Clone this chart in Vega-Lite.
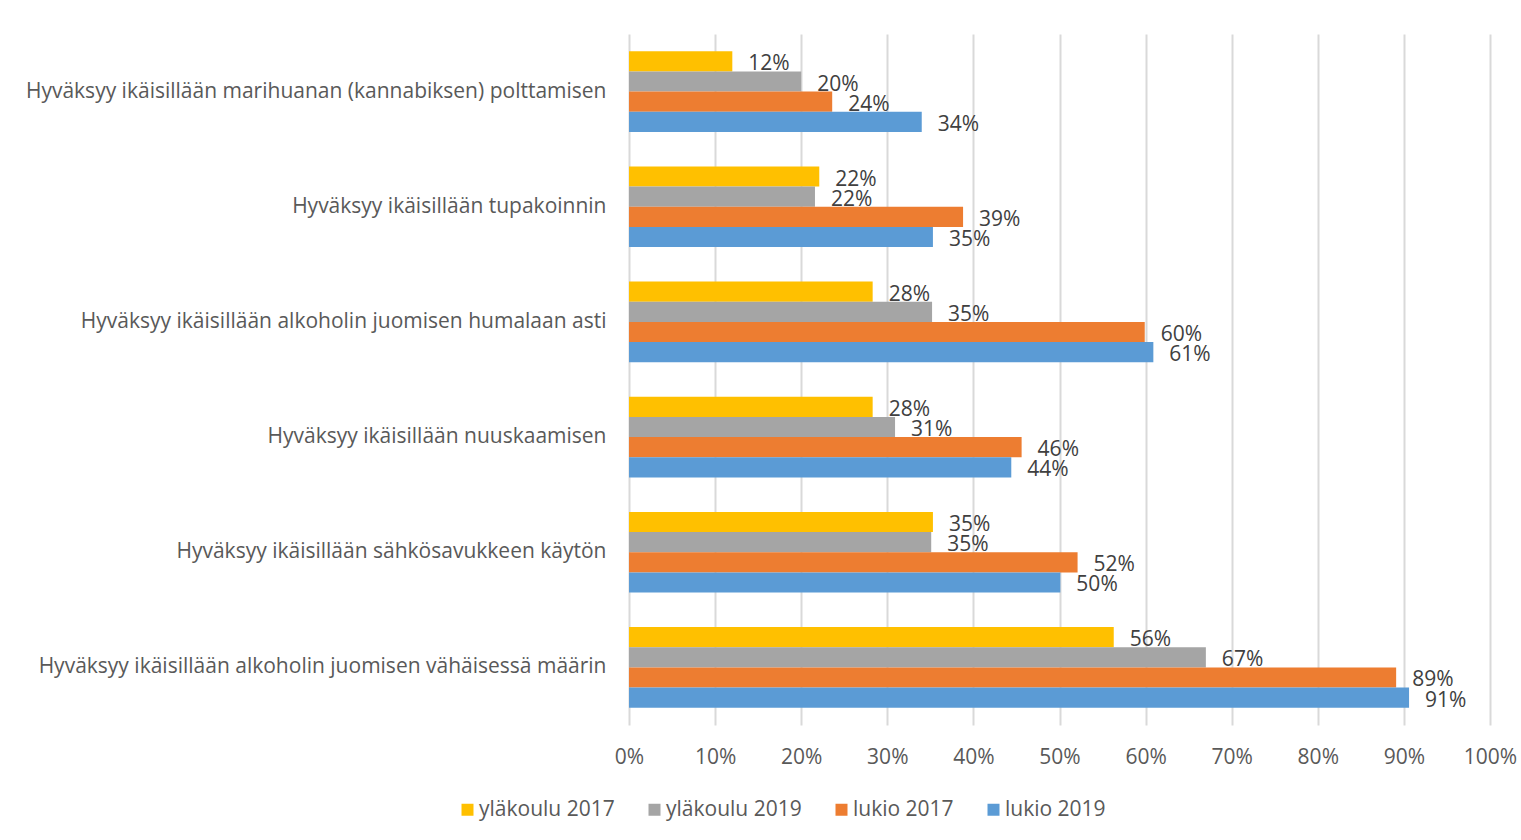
{
  "$schema": "https://vega.github.io/schema/vega-lite/v6.json",
  "autosize": "none",
  "width": 861,
  "height": 691,
  "padding": {"left": 629, "top": 34, "right": 31, "bottom": 115},
  "background": "white",
  "config": {
    "view": {"stroke": null},
    "font": "Open Sans"
  },
  "data": {
    "values": [
      {"kategoria": "Hyväksyy ikäisillään marihuanan (kannabiksen) polttamisen", "ryhma": "yläkoulu 2017", "arvo": 0.12},
      {"kategoria": "Hyväksyy ikäisillään marihuanan (kannabiksen) polttamisen", "ryhma": "yläkoulu 2019", "arvo": 0.20},
      {"kategoria": "Hyväksyy ikäisillään marihuanan (kannabiksen) polttamisen", "ryhma": "lukio 2017", "arvo": 0.236},
      {"kategoria": "Hyväksyy ikäisillään marihuanan (kannabiksen) polttamisen", "ryhma": "lukio 2019", "arvo": 0.34},
      {"kategoria": "Hyväksyy ikäisillään tupakoinnin", "ryhma": "yläkoulu 2017", "arvo": 0.221},
      {"kategoria": "Hyväksyy ikäisillään tupakoinnin", "ryhma": "yläkoulu 2019", "arvo": 0.216},
      {"kategoria": "Hyväksyy ikäisillään tupakoinnin", "ryhma": "lukio 2017", "arvo": 0.388},
      {"kategoria": "Hyväksyy ikäisillään tupakoinnin", "ryhma": "lukio 2019", "arvo": 0.353},
      {"kategoria": "Hyväksyy ikäisillään alkoholin juomisen humalaan asti", "ryhma": "yläkoulu 2017", "arvo": 0.283},
      {"kategoria": "Hyväksyy ikäisillään alkoholin juomisen humalaan asti", "ryhma": "yläkoulu 2019", "arvo": 0.352},
      {"kategoria": "Hyväksyy ikäisillään alkoholin juomisen humalaan asti", "ryhma": "lukio 2017", "arvo": 0.599},
      {"kategoria": "Hyväksyy ikäisillään alkoholin juomisen humalaan asti", "ryhma": "lukio 2019", "arvo": 0.609},
      {"kategoria": "Hyväksyy ikäisillään nuuskaamisen", "ryhma": "yläkoulu 2017", "arvo": 0.283},
      {"kategoria": "Hyväksyy ikäisillään nuuskaamisen", "ryhma": "yläkoulu 2019", "arvo": 0.309},
      {"kategoria": "Hyväksyy ikäisillään nuuskaamisen", "ryhma": "lukio 2017", "arvo": 0.456},
      {"kategoria": "Hyväksyy ikäisillään nuuskaamisen", "ryhma": "lukio 2019", "arvo": 0.444},
      {"kategoria": "Hyväksyy ikäisillään sähkösavukkeen käytön", "ryhma": "yläkoulu 2017", "arvo": 0.353},
      {"kategoria": "Hyväksyy ikäisillään sähkösavukkeen käytön", "ryhma": "yläkoulu 2019", "arvo": 0.351},
      {"kategoria": "Hyväksyy ikäisillään sähkösavukkeen käytön", "ryhma": "lukio 2017", "arvo": 0.521},
      {"kategoria": "Hyväksyy ikäisillään sähkösavukkeen käytön", "ryhma": "lukio 2019", "arvo": 0.501},
      {"kategoria": "Hyväksyy ikäisillään alkoholin juomisen vähäisessä määrin", "ryhma": "yläkoulu 2017", "arvo": 0.563},
      {"kategoria": "Hyväksyy ikäisillään alkoholin juomisen vähäisessä määrin", "ryhma": "yläkoulu 2019", "arvo": 0.670},
      {"kategoria": "Hyväksyy ikäisillään alkoholin juomisen vähäisessä määrin", "ryhma": "lukio 2017", "arvo": 0.891},
      {"kategoria": "Hyväksyy ikäisillään alkoholin juomisen vähäisessä määrin", "ryhma": "lukio 2019", "arvo": 0.906}
    ]
  },
  "encoding": {
    "y": {
      "field": "kategoria",
      "type": "nominal",
      "sort": null,
      "scale": {"paddingInner": 0.3, "paddingOuter": 0.15},
      "axis": {
        "title": null,
        "ticks": false,
        "domain": false,
        "labelFontSize": 21,
        "labelColor": "#595959",
        "labelPadding": 23,
        "labelLimit": 700
      }
    },
    "yOffset": {
      "field": "ryhma",
      "type": "nominal",
      "sort": ["yläkoulu 2017", "yläkoulu 2019", "lukio 2017", "lukio 2019"],
      "scale": {"paddingInner": 0, "paddingOuter": 0}
    },
    "x": {
      "field": "arvo",
      "type": "quantitative",
      "scale": {"domain": [0, 1]},
      "axis": {
        "title": null,
        "format": ".0%",
        "values": [0, 0.1, 0.2, 0.3, 0.4, 0.5, 0.6, 0.7, 0.8, 0.9, 1],
        "ticks": false,
        "domain": false,
        "grid": true,
        "gridColor": "#d9d9d9",
        "gridWidth": 2,
        "labelFontSize": 21,
        "labelColor": "#595959",
        "labelPadding": 21,
        "labelFlush": false
      }
    }
  },
  "layer": [
    {
      "mark": {"type": "bar"},
      "encoding": {
        "color": {
          "field": "ryhma",
          "type": "nominal",
          "sort": ["yläkoulu 2017", "yläkoulu 2019", "lukio 2017", "lukio 2019"],
          "scale": {
            "domain": ["yläkoulu 2017", "yläkoulu 2019", "lukio 2017", "lukio 2019"],
            "range": ["#FFC000", "#A5A5A5", "#ED7D31", "#5B9BD5"]
          },
          "legend": {
            "title": null,
            "orient": "none",
            "direction": "horizontal",
            "legendX": -172,
            "legendY": 765,
            "symbolType": "square",
            "symbolSize": 144,
            "symbolStrokeWidth": 0,
            "symbolOpacity": 1,
            "labelFontSize": 21,
            "labelColor": "#595959",
            "labelOffset": 1,
            "columnPadding": 29
          }
        }
      }
    },
    {
      "mark": {"type": "text", "align": "left", "baseline": "middle", "dx": 16, "dy": 3, "fontSize": 21, "color": "#404040"},
      "encoding": {
        "text": {"field": "arvo", "type": "quantitative", "format": ".0%"}
      }
    }
  ]
}
